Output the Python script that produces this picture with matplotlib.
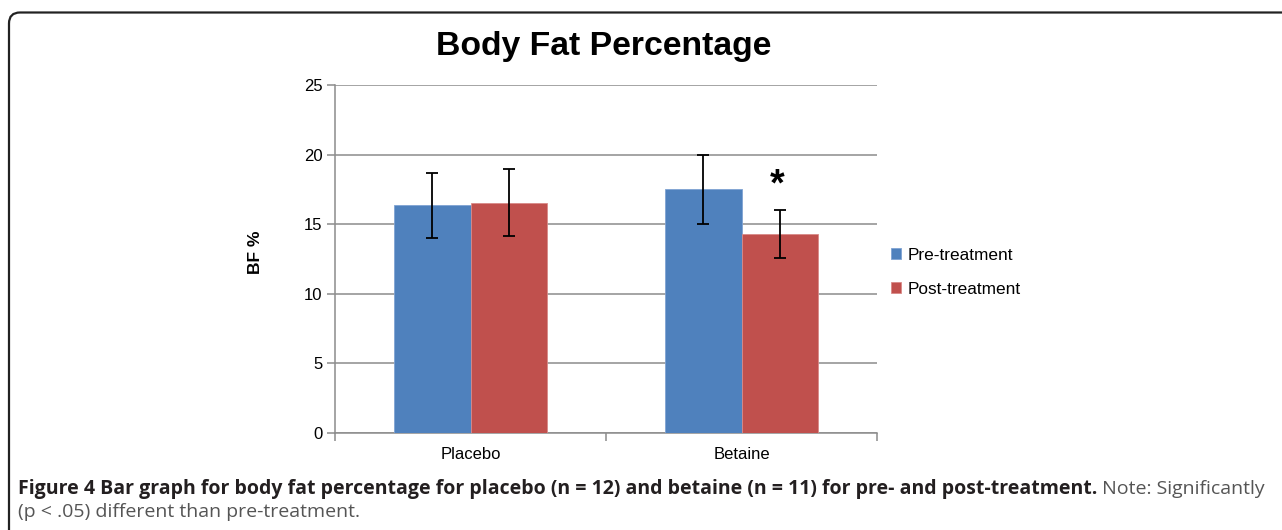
import matplotlib
matplotlib.use("Agg")
import matplotlib.pyplot as plt
import numpy as np
from matplotlib.patches import FancyBboxPatch

# values
groups = ["Placebo", "Betaine"]
series = ["Pre-treatment", "Post-treatment"]
pre_vals = [16.35, 17.5]
post_vals = [16.55, 14.3]
pre_err = [2.33, 2.5]
post_err = [2.38, 1.72]
y_ticks = [0, 5, 10, 15, 20, 25]
star_y = 17.75

blue = "#4F81BD"
red = "#C0504D"
grid_c = "#8C8C8C"

plt.rcParams["font.family"] = ["Liberation Sans", "DejaVu Sans"]

W, H = 1282, 530
fig = plt.figure(figsize=(W / 100, H / 100), dpi=100)

# rounded border (only top and left edges fall inside the image)
box = FancyBboxPatch((0.09, -1.0), 15.0, 1.0 + (H - 12.5) / 100,
                     boxstyle="round,pad=0,rounding_size=0.11",
                     transform=fig.dpi_scale_trans, fill=False,
                     edgecolor="#222222", linewidth=1.6, clip_on=False)
fig.patches.append(box)

ax = fig.add_axes([335 / W, (H - 433) / H, 542 / W, 348 / H])

x = np.arange(len(groups))
bw = 0.284
err_kw = dict(ecolor="black", elinewidth=1.3, capsize=4, capthick=1.3)
ax.bar(x - bw / 2, pre_vals, bw, yerr=pre_err, color=blue,
       edgecolor="#7FA3D3", linewidth=0.6, label=series[0], error_kw=err_kw, zorder=3)
ax.bar(x + bw / 2, post_vals, bw, yerr=post_err, color=red,
       edgecolor="#D98A88", linewidth=0.6, label=series[1], error_kw=err_kw, zorder=3)

ax.text(x[1] + bw / 2 - 0.01, star_y, "*", ha="center", va="center",
        fontsize=27, fontweight="bold", zorder=4)

ax.set_xlim(-0.5, 1.5)
ax.set_ylim(0, 25)
ax.set_yticks(y_ticks)
ax.set_yticklabels([str(v) for v in y_ticks], fontsize=12)
ax.yaxis.grid(True, color=grid_c, linewidth=1.1, zorder=0)
ax.set_axisbelow(True)

ax.set_xticks(x)
ax.set_xticklabels(groups, fontsize=12)
ax.set_xticks([-0.5, 0.5, 1.5], minor=True)
ax.tick_params(axis="x", which="major", length=0, pad=10)
ax.tick_params(axis="x", which="minor", length=6, color=grid_c, width=1.1)
ax.tick_params(axis="y", length=6, color=grid_c, width=1.1, pad=3)

for side in ["top", "right"]:
    ax.spines[side].set_visible(False)
for side in ["left", "bottom"]:
    ax.spines[side].set_color(grid_c)
    ax.spines[side].set_linewidth(1.1)

ax.set_ylabel("BF %", fontsize=12.5, fontweight="bold")
ax.yaxis.set_label_coords(-0.132, 0.52)

ax.legend(loc="center left", bbox_to_anchor=(1.026, 0.462), frameon=False,
          fontsize=12.4, handlelength=0.6, handleheight=0.6, handletextpad=0.35,
          labelspacing=1.12, borderpad=0, borderaxespad=0)

fig.text(604 / W, 1 - 47 / H, "Body Fat Percentage", ha="center", va="center",
         fontsize=24.3, fontweight="bold")

# caption
cap_bold = ("Figure 4 Bar graph for body fat percentage for placebo (n = 12) "
            "and betaine (n = 11) for pre- and post-treatment.")
cap_note = " Note: Significantly"
cap_line2 = "(p < .05) different than pre-treatment."
cap_fs = 14
t1 = fig.text(18 / W, 1 - 494 / H, cap_bold, ha="left", va="baseline",
              fontsize=cap_fs, fontweight="bold", family="Open Sans", color="#231F20")
fig.canvas.draw()
bb = t1.get_window_extent()
fig.text(bb.x1 / W, 1 - 494 / H, cap_note, ha="left", va="baseline",
         fontsize=cap_fs, family="Open Sans", color="#555555")
fig.text(18 / W, 1 - 517 / H, cap_line2, ha="left", va="baseline",
         fontsize=cap_fs, family="Open Sans", color="#555555")

fig.savefig("out.png", dpi=100)
